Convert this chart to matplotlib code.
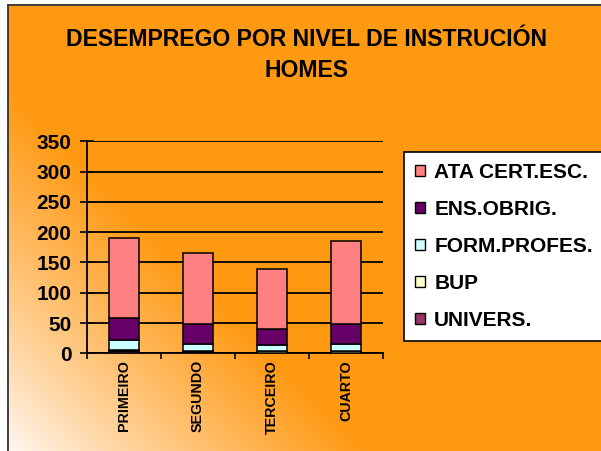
import numpy as np
import matplotlib
matplotlib.use("Agg")
import matplotlib.pyplot as plt
from matplotlib.patches import Patch

categories = ["PRIMEIRO", "SEGUNDO", "TERCEIRO", "CUARTO"]
series_names = ["UNIVERS.", "BUP", "FORM.PROFES.", "ENS.OBRIG.", "ATA CERT.ESC."]
univers = [3, 2, 1, 1]
bup = [3, 2, 2, 2]
form_profes = [16, 12, 11, 13]
ens_obrig = [37, 33, 26, 33]
ata_cert = [132, 116, 99, 136]
series_values = [univers, bup, form_profes, ens_obrig, ata_cert]
series_colors = ["#993366", "#FFFFCC", "#CCFFFF", "#660066", "#FF8080"]
y_ticks = [0, 50, 100, 150, 200, 250, 300, 350]

W, H = 601, 451
plt.rcParams['font.family'] = ['Liberation Sans', 'DejaVu Sans']
fig = plt.figure(figsize=(W / 100, H / 100), dpi=100)
fig.patch.set_facecolor("white")

# background gradient panel
bg = fig.add_axes([8 / W, 0, 1 - 8 / W, 1 - 5 / H], zorder=-5)
bg.set_axis_off()
xs = np.arange(8, W)
ys = np.arange(5, H)
X, Y = np.meshgrid(xs, ys)
s = (X - 8) + (H - Y)
t = np.clip(s / 360.0, 0, 1) ** 0.9
light = np.array([255, 248, 244]) / 255
orange = np.array([255, 153, 18]) / 255
img = light[None, None, :] * (1 - t[..., None]) + orange[None, None, :] * t[..., None]
bg.imshow(img, extent=[0, 1, 0, 1], aspect='auto', origin='upper')
bg.set_xlim(0, 1)
bg.set_ylim(0, 1)
fig.add_artist(plt.Line2D([8 / W, 8 / W], [0, 1 - 5 / H], color='#333333', lw=1.3, transform=fig.transFigure))
fig.add_artist(plt.Line2D([8 / W, 1], [1 - 5 / H, 1 - 5 / H], color='#333333', lw=1.3, transform=fig.transFigure))

ax = fig.add_axes([86.7 / W, (H - 353.3) / H, (383 - 86.7) / W, (353.3 - 141.3) / H])
ax.set_facecolor('none')
x = np.arange(len(categories))
bottom = np.zeros(len(categories))
handles = []
for name, vals, col in zip(series_names, series_values, series_colors):
    ax.bar(x, vals, width=0.405, bottom=bottom, color=col, edgecolor='black', linewidth=1.1, zorder=3)
    bottom += np.array(vals)
    handles.append(Patch(facecolor=col, edgecolor='black', linewidth=1.0, label=name))

ax.set_ylim(0, 350)
ax.set_xlim(-0.5, len(categories) - 0.5)
ax.set_yticks(y_ticks)
ax.set_yticklabels([str(v) for v in y_ticks], fontsize=15, fontweight='bold')
ax.yaxis.grid(True, color='black', linewidth=1.3, zorder=1)
ax.set_axisbelow(True)
ax.tick_params(axis='y', direction='inout', length=10, width=1.2, pad=6)
ax.set_xticks(np.arange(-0.5, len(categories) + 0.5, 1.0))
ax.set_xticklabels([])
ax.set_xticks(x, minor=True)
ax.set_xticklabels(categories, minor=True, rotation=90, fontsize=10.3, fontweight='bold', va='top', ha='center')
ax.tick_params(axis='x', which='major', direction='out', length=4, width=1.2)
ax.tick_params(axis='x', which='minor', length=0, pad=5)
for sp in ['top', 'right']:
    ax.spines[sp].set_visible(False)
for sp in ['left', 'bottom']:
    ax.spines[sp].set_linewidth(1.3)

fig.text(307 / W, 1 - 55 / H, "DESEMPREGO POR NIVEL DE INSTRUCIÓN\nHOMES", ha='center', va='center',
         fontsize=16.6, fontweight='bold', linespacing=1.48)

leg = fig.legend(handles=handles[::-1], loc='upper left', bbox_to_anchor=(404 / W, 1 - 151.5 / H),
                 prop={'weight': 'bold', 'size': 15}, frameon=True, fancybox=False,
                 edgecolor='black', facecolor='white', framealpha=1, borderpad=0.55,
                 handlelength=0.45, handleheight=0.45, handletextpad=0.45, labelspacing=0.86,
                 borderaxespad=0)
leg.get_frame().set_linewidth(1.2)

fig.savefig("out.png", dpi=100)
